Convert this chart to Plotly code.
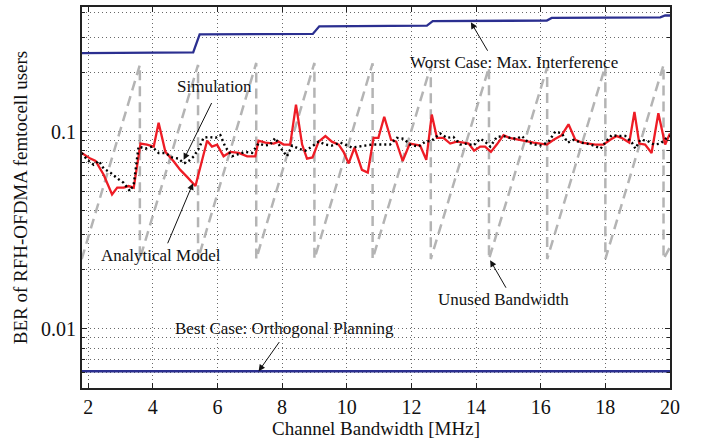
import math
import plotly.graph_objects as go

# ---------------- data ----------------
analytical_x = [1.8, 2.07, 2.23, 2.48, 2.74, 2.9, 3.1, 3.25, 3.41, 3.62, 3.82, 4.03, 4.18, 4.39,
                4.65, 4.85, 5.06, 5.32, 5.68, 5.83, 5.99, 6.19, 6.4, 6.66, 6.92, 7.17, 7.27, 7.48,
                7.74, 7.89, 8.05, 8.25, 8.43, 8.62, 8.77, 8.94, 9.13, 9.34, 9.54, 9.75, 9.9, 10.06,
                10.24, 10.47, 10.65, 10.83, 10.98, 11.16, 11.37, 11.53, 11.73, 11.95, 12.12, 12.27,
                12.46, 12.63, 12.79, 12.99, 13.2, 13.4, 13.61, 13.77, 13.94, 14.13, 14.28, 14.46,
                14.64, 14.85, 15.03, 15.21, 15.47, 15.78, 15.99, 16.19, 16.4, 16.65, 16.86, 17.07,
                17.27, 17.48, 17.69, 17.94, 18.15, 18.35, 18.5, 18.74, 18.9, 19.05, 19.23, 19.43,
                19.64, 19.85, 20.0]
analytical_y = [0.078, 0.073, 0.071, 0.0605, 0.048, 0.052, 0.052, 0.053, 0.052, 0.087, 0.086, 0.084,
                0.111, 0.079, 0.0706, 0.064, 0.059, 0.053, 0.090, 0.084, 0.086, 0.075, 0.079, 0.078,
                0.075, 0.075, 0.090, 0.088, 0.087, 0.089, 0.086, 0.086, 0.137, 0.086, 0.073, 0.074,
                0.089, 0.095, 0.089, 0.086, 0.079, 0.069, 0.083, 0.064, 0.062, 0.093, 0.093, 0.119,
                0.091, 0.089, 0.071, 0.087, 0.086, 0.085, 0.072, 0.122, 0.093, 0.093, 0.087, 0.089,
                0.088, 0.087, 0.080, 0.084, 0.084, 0.079, 0.086, 0.096, 0.093, 0.092, 0.090, 0.088,
                0.087, 0.086, 0.091, 0.096, 0.109, 0.091, 0.088, 0.087, 0.086, 0.086, 0.091, 0.095,
                0.093, 0.088, 0.126, 0.087, 0.086, 0.078, 0.124, 0.086, 0.098]

simulation_x = [1.8, 1.97, 2.17, 2.33, 2.48, 2.69, 2.9, 3.1, 3.29, 3.41, 3.56, 3.77, 3.98, 4.18,
                4.39, 4.6, 4.8, 4.96, 5.11, 5.27, 5.42, 5.57, 5.73, 5.94, 6.09, 6.24, 6.4, 6.45,
                6.66, 6.86, 7.07, 7.27, 7.48, 7.63, 7.79, 7.97, 8.15, 8.31, 8.51, 8.72, 8.92, 9.13,
                9.34, 9.54, 9.8, 9.96, 10.16, 10.37, 10.57, 10.78, 10.93, 11.14, 11.34, 11.55, 11.76,
                11.96, 12.22, 12.43, 12.63, 12.89, 13.1, 13.3, 13.51, 13.72, 13.92, 14.13, 14.28,
                14.44, 14.64, 14.85, 15.06, 15.26, 15.42, 15.62, 15.83, 16.03, 16.24, 16.45, 16.65,
                16.84, 17.02, 17.23, 17.43, 17.64, 17.85, 18.02, 18.2, 18.41, 18.62, 18.82, 18.93,
                19.08, 19.29, 19.5, 19.7, 19.9, 20.0]
simulation_y = [0.078, 0.072, 0.068, 0.071, 0.065, 0.062, 0.058, 0.055, 0.050, 0.054, 0.084, 0.082,
                0.084, 0.078, 0.078, 0.074, 0.073, 0.069, 0.071, 0.075, 0.082, 0.093, 0.094, 0.093,
                0.096, 0.084, 0.077, 0.075, 0.077, 0.079, 0.078, 0.087, 0.085, 0.086, 0.093, 0.082,
                0.075, 0.085, 0.082, 0.080, 0.084, 0.089, 0.086, 0.085, 0.088, 0.086, 0.083, 0.084,
                0.085, 0.086, 0.086, 0.086, 0.086, 0.093, 0.092, 0.086, 0.084, 0.089, 0.090, 0.098,
                0.093, 0.094, 0.086, 0.087, 0.085, 0.092, 0.089, 0.084, 0.094, 0.095, 0.093, 0.092,
                0.095, 0.088, 0.086, 0.085, 0.089, 0.100, 0.098, 0.088, 0.091, 0.088, 0.087, 0.085,
                0.082, 0.089, 0.096, 0.095, 0.095, 0.088, 0.082, 0.091, 0.090, 0.086, 0.087, 0.093,
                0.095]

worst_x = [1.8, 5.25, 5.45, 8.95, 9.15, 12.48, 12.66, 16.19, 16.34, 19.7, 19.85, 20.0]
worst_y = [0.250, 0.252, 0.311, 0.313, 0.342, 0.345, 0.363, 0.366, 0.377, 0.380, 0.388, 0.388]

best_x = [1.8, 20.0]
best_y = [0.0061, 0.0061]

unused_x = [1.8, 3.6, 3.6, 5.4, 5.4, 7.2, 7.2, 9.0, 9.0, 10.8, 10.8, 12.6, 12.6, 14.4, 14.4,
            16.2, 16.2, 18.0, 18.0, 19.8, 19.8, 20.0]
unused_y = [0.0226, 0.218, 0.0226, 0.218, 0.0226, 0.223, 0.0226, 0.223, 0.0226, 0.222, 0.0226,
            0.215, 0.0226, 0.212, 0.0226, 0.212, 0.0226, 0.215, 0.0226, 0.218, 0.0226, 0.026]

x_ticks = [2, 4, 6, 8, 10, 12, 14, 16, 18, 20]
y_ticks = [0.01, 0.1]
y_tick_text = ["0.01", "0.1"]
y_minor = [0.006, 0.007, 0.008, 0.009, 0.02, 0.03, 0.04, 0.05, 0.06, 0.07, 0.08, 0.09,
           0.2, 0.3, 0.4]

# ---------------- figure ----------------
SERIF = "Liberation Serif"
fig = go.Figure()

fig.add_trace(go.Scatter(x=unused_x, y=unused_y, mode="lines",
                         line=dict(color="#b4b4b4", width=2.5, dash="10px,6px"),
                         name="Unused Bandwidth"))
fig.add_trace(go.Scatter(x=worst_x, y=worst_y, mode="lines",
                         line=dict(color="#2b2f90", width=2.3), name="Worst Case"))
fig.add_trace(go.Scatter(x=best_x, y=best_y, mode="lines",
                         line=dict(color="#2b2f90", width=2.3), name="Best Case"))
fig.add_trace(go.Scatter(x=analytical_x, y=analytical_y, mode="lines",
                         line=dict(color="#ee1c25", width=2.3), name="Analytical Model"))
fig.add_trace(go.Scatter(x=simulation_x, y=simulation_y, mode="lines",
                         line=dict(color="#000000", width=2.4, dash="2px,3px"), name="Simulation"))

grid_col = "rgba(40,40,40,0.7)"
grid_dash = "1px,3px"
fig.update_xaxes(range=[1.81, 20], tickvals=x_ticks, ticks="inside", ticklen=5,
                 tickcolor="#222", showline=True, linecolor="#222", linewidth=2,
                 mirror="allticks", showgrid=True, gridcolor=grid_col, gridwidth=1,
                 griddash=grid_dash, zeroline=False,
                 tickfont=dict(family=SERIF, size=20, color="#111"),
                 title=dict(text="Channel Bandwidth [MHz]",
                            font=dict(family=SERIF, size=19, color="#111"), standoff=4))
fig.update_yaxes(type="log", range=[-2.2995, -0.3681], tickvals=y_ticks, ticktext=y_tick_text,
                 ticks="inside", ticklen=5, tickcolor="#222", showline=True, linecolor="#222",
                 linewidth=2, mirror="allticks", showgrid=True, gridcolor=grid_col,
                 gridwidth=1, griddash=grid_dash, zeroline=False,
                 minor=dict(tickvals=y_minor, ticks="inside", ticklen=3, tickcolor="#222",
                            showgrid=True, gridcolor=grid_col, griddash=grid_dash, gridwidth=1),
                 tickfont=dict(family=SERIF, size=20, color="#111"),
                 title=dict(text="BER of RFH-OFDMA femtocell users",
                            font=dict(family=SERIF, size=19, color="#111"), standoff=8))

afont = dict(family=SERIF, size=17, color="#111")
labels = [
    ("Worst Case: Max. Interference", 15.18, -0.647),
    ("Simulation", 5.92, -0.773),
    ("Analytical Model", 4.266, -1.630),
    ("Unused Bandwidth", 14.85, -1.852),
    ("Best Case: Orthogonal Planning", 8.06, -2.0),
]
for txt, lx, ly in labels:
    fig.add_annotation(x=lx, y=ly, xref="x", yref="y", text=txt, showarrow=False, font=afont)

arrows = [
    (13.84, 0.3587, 17.6, 30),
    (4.955, 0.072, 28.7, -58.3),
    (5.245, 0.0548, -26, 61.6),
    (14.436, 0.0223, 16.7, 29),
    (7.274, 0.0061, 21.7, -30.7),
]
for tx, ty, ax, ay in arrows:
    fig.add_annotation(x=tx, y=math.log10(ty), xref="x", yref="y", text="", showarrow=True,
                       ax=ax, ay=ay, arrowhead=2, arrowsize=1.3, arrowwidth=1,
                       arrowcolor="#111", standoff=0, startstandoff=0)

fig.update_layout(width=705, height=445, margin=dict(l=82, r=35, t=5, b=57),
                  plot_bgcolor="white", paper_bgcolor="white", showlegend=False)

fig.write_html("out.html")
